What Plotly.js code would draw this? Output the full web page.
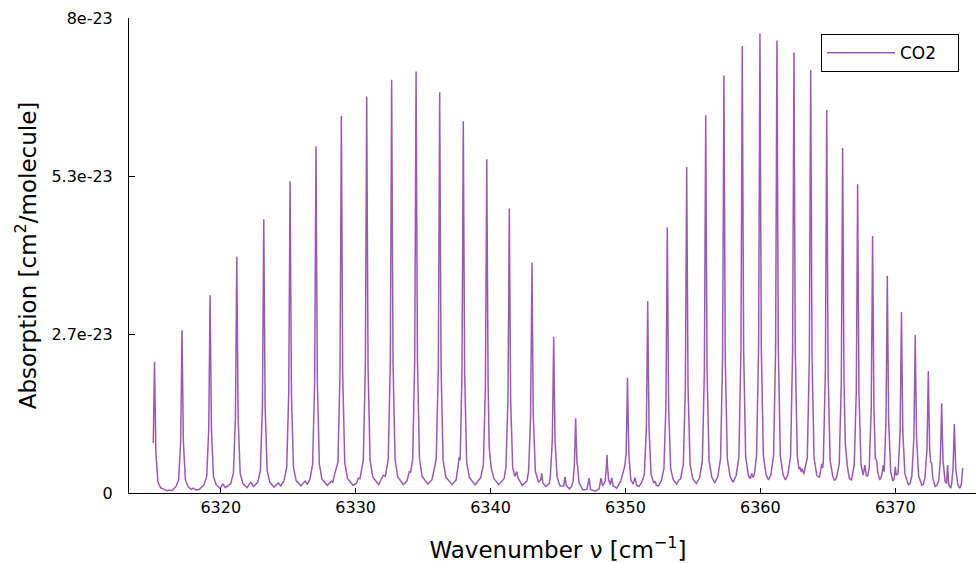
<!DOCTYPE html>
<html>
<head>
<meta charset="utf-8">
<script src="https://cdn.plot.ly/plotly-3.0.1.min.js"></script>
<style>
html,body{margin:0;padding:0;overflow:hidden;background:#fff;}
#chart{width:987px;height:563px;}
</style>
</head>
<body>
<div id="chart"></div>
<script>
// Wavenumber (cm^-1) and absorption cross-section (in units of 1e-23 cm^2/molecule)
const wavenumber = [
6315.00,6315.05,6315.09,6315.13,6315.19,6315.34,6315.54,6315.80,6316.00,6316.20,6316.40,
6316.68,6316.88,6317.03,6317.09,6317.13,6317.17,6317.23,6317.38,6317.58,6317.80,6317.97,6318.15,6318.40,
6318.76,6318.96,6319.11,6319.17,6319.21,6319.25,6319.31,6319.46,6319.66,6319.95,6320.15,6320.35,
6320.74,6320.94,6321.09,6321.15,6321.19,6321.23,6321.29,6321.44,6321.64,6321.95,6322.22,6322.42,
6322.74,6322.94,6323.09,6323.15,6323.19,6323.23,6323.29,6323.44,6323.64,6323.95,6324.27,6324.45,
6324.69,6324.89,6325.04,6325.10,6325.14,6325.18,6325.24,6325.39,6325.59,6325.95,6326.25,6326.42,
6326.61,6326.81,6326.96,6327.02,6327.06,6327.10,6327.16,6327.31,6327.51,6327.90,6328.20,6328.30,6328.47,
6328.69,6328.84,6328.90,6328.94,6328.98,6329.04,6329.19,6329.39,6329.80,6330.05,6330.20,6330.32,
6330.57,6330.72,6330.78,6330.82,6330.86,6330.92,6331.07,6331.27,6331.70,6332.05,6332.20,
6332.42,6332.57,6332.63,6332.67,6332.71,6332.77,6332.92,6333.12,6333.55,6333.80,6333.98,6334.08,
6334.23,6334.38,6334.44,6334.48,6334.52,6334.58,6334.73,6334.93,6335.35,6335.65,6335.88,
6335.98,6336.13,6336.19,6336.23,6336.27,6336.33,6336.48,6336.68,6337.15,6337.45,6337.62,6337.68,6337.75,
6337.88,6337.94,6337.98,6338.02,6338.08,6338.23,6338.43,6338.85,6339.27,
6339.47,6339.62,6339.68,6339.72,6339.76,6339.82,6339.90,6339.97,6340.05,6340.25,6340.60,6341.00,
6341.14,6341.29,6341.35,6341.39,6341.43,6341.49,6341.64,6341.80,6341.94,6342.05,6342.35,6342.70,
6342.82,6342.97,6343.03,6343.07,6343.11,6343.17,6343.32,6343.55,6343.72,6343.79,6343.88,6344.10,6344.35,
6344.43,6344.58,6344.64,6344.68,6344.72,6344.78,6344.93,6345.15,6345.42,6345.52,6345.62,6345.85,6346.00,
6346.12,6346.21,6346.27,6346.31,6346.35,6346.41,6346.45,6346.56,6346.85,6347.15,6347.30,6347.42,6347.75,6348.05,6348.19,6348.30,6348.50,
6348.59,6348.63,6348.67,6348.75,6348.88,6348.98,6349.08,6349.35,6349.65,6349.84,6349.95,
6350.05,6350.11,6350.15,6350.19,6350.25,6350.40,6350.58,6350.71,6350.83,6351.00,6351.20,
6351.40,6351.55,6351.61,6351.65,6351.69,6351.75,6351.90,6352.10,6352.19,6352.30,6352.45,6352.65,
6352.85,6353.00,6353.06,6353.10,6353.14,6353.20,6353.35,6353.55,6353.80,6353.96,6354.09,
6354.29,6354.44,6354.50,6354.54,6354.58,6354.64,6354.79,6354.99,6355.25,6355.50,
6355.70,6355.85,6355.91,6355.95,6355.99,6356.05,6356.20,6356.40,6356.62,6356.85,
6357.05,6357.20,6357.26,6357.30,6357.34,6357.40,6357.55,6357.75,6357.98,6358.21,
6358.41,6358.56,6358.62,6358.66,6358.70,6358.76,6358.91,6359.11,6359.25,6359.36,6359.45,6359.55,
6359.72,6359.87,6359.93,6359.97,6360.01,6360.07,6360.22,6360.42,6360.60,6360.78,
6360.98,6361.13,6361.19,6361.23,6361.27,6361.33,6361.48,6361.68,6361.86,6362.04,
6362.24,6362.39,6362.45,6362.49,6362.53,6362.59,6362.74,6362.86,6362.94,6363.02,6363.10,6363.22,
6363.48,6363.63,6363.69,6363.73,6363.77,6363.83,6363.98,6364.18,6364.38,6364.48,6364.55,6364.62,
6364.67,6364.82,6364.88,6364.92,6364.96,6365.02,6365.17,6365.37,6365.50,6365.65,
6365.85,6366.00,6366.06,6366.10,6366.14,6366.20,6366.30,6366.38,6366.45,6366.60,6366.76,
6366.96,6367.11,6367.17,6367.21,6367.25,6367.31,6367.46,6367.62,6367.75,6367.85,6367.95,
6368.07,6368.22,6368.28,6368.32,6368.36,6368.42,6368.52,6368.62,6368.70,6368.85,6369.00,6369.11,6369.18,
6369.31,6369.37,6369.41,6369.45,6369.51,6369.66,6369.82,6369.93,6370.00,6370.07,
6370.21,6370.36,6370.42,6370.46,6370.50,6370.56,6370.71,6370.97,6371.10,
6371.23,6371.38,6371.44,6371.48,6371.52,6371.58,6371.73,6371.97,6372.08,
6372.20,6372.35,6372.41,6372.45,6372.49,6372.55,6372.62,6372.70,6372.78,6372.95,6373.08,
6373.22,6373.34,6373.40,6373.44,6373.48,6373.54,6373.69,6373.80,6373.88,6373.96,6374.10,
6374.18,6374.28,6374.34,6374.38,6374.42,6374.48,6374.63,6374.78,6374.90,6375.00
];
const absorption_1e23 = [
0.84,1.60,2.21,1.60,0.70,0.19,0.09,0.06,0.04,0.05,0.04,
0.11,0.22,0.87,1.97,2.74,1.97,0.87,0.22,0.11,0.06,0.08,0.05,0.06,
0.14,0.28,1.07,2.40,3.33,2.40,1.07,0.28,0.14,0.08,0.15,0.09,
0.16,0.33,1.27,2.87,3.98,2.87,1.27,0.33,0.16,0.09,0.18,0.11,
0.18,0.38,1.47,3.32,4.61,3.32,1.47,0.38,0.18,0.10,0.17,0.12,
0.21,0.43,1.68,3.78,5.25,3.78,1.68,0.43,0.21,0.12,0.20,0.15,
0.23,0.48,1.86,4.20,5.84,4.20,1.86,0.48,0.23,0.13,0.20,0.18,0.34,
0.52,2.03,4.57,6.35,4.57,2.03,0.52,0.25,0.13,0.16,0.25,0.24,
0.55,2.13,4.81,6.68,4.81,2.13,0.55,0.27,0.14,0.30,0.28,
0.57,2.22,5.01,6.96,5.01,2.22,0.57,0.27,0.14,0.20,0.36,0.35,
0.58,2.26,5.11,7.10,5.11,2.26,0.58,0.28,0.15,0.22,0.46,
0.60,2.15,4.86,6.75,4.86,2.15,0.56,0.27,0.14,0.22,0.50,0.61,0.55,
2.00,4.51,6.26,4.51,2.00,0.52,0.26,0.14,0.26,
0.48,1.82,4.05,5.62,4.05,1.82,0.78,0.60,0.42,0.24,0.14,0.24,
0.43,1.57,3.45,4.79,3.45,1.57,0.43,0.28,0.36,0.25,0.13,0.20,
0.37,1.29,2.79,3.88,2.79,1.29,0.37,0.18,0.22,0.33,0.17,0.11,0.16,
0.27,0.90,1.89,2.63,1.89,0.90,0.27,0.12,0.12,0.27,0.12,0.07,0.11,
0.20,0.45,0.91,1.26,0.91,0.50,0.46,0.17,0.05,0.06,0.25,0.06,0.03,0.07,0.25,0.12,0.20,
0.46,0.64,0.46,0.22,0.14,0.26,0.12,0.08,0.20,0.36,0.45,
0.66,1.40,1.94,1.40,0.66,0.22,0.15,0.26,0.13,0.11,0.18,
0.31,1.08,2.33,3.23,2.33,1.08,0.31,0.17,0.20,0.13,0.12,0.20,
0.41,1.47,3.22,4.47,3.22,1.47,0.41,0.22,0.15,0.22,0.24,
0.48,1.78,3.95,5.49,3.95,1.78,0.48,0.24,0.16,0.26,
0.54,2.05,4.58,6.36,4.58,2.05,0.54,0.27,0.17,0.28,
0.58,2.25,5.06,7.03,5.06,2.25,0.58,0.28,0.18,0.30,
0.61,2.40,5.42,7.53,5.42,2.40,0.61,0.30,0.24,0.33,0.26,0.31,
0.63,2.46,5.57,7.74,5.57,2.46,0.63,0.31,0.22,0.31,
0.63,2.43,5.49,7.62,5.49,2.43,0.63,0.31,0.22,0.31,
0.62,2.37,5.34,7.42,5.34,2.37,0.62,0.40,0.44,0.36,0.41,0.32,
0.59,2.28,5.13,7.12,5.13,2.28,0.59,0.30,0.26,0.40,0.49,0.42,
0.55,2.08,4.64,6.45,4.64,2.08,0.55,0.28,0.21,0.26,
0.50,1.88,4.18,5.81,4.18,1.88,0.82,0.62,0.45,0.24,0.22,
0.48,1.70,3.74,5.20,3.74,1.70,0.48,0.30,0.47,0.30,0.28,
0.42,1.43,3.12,4.33,3.12,1.43,0.58,0.55,0.35,0.22,0.30,0.47,0.36,
1.22,2.64,3.66,2.64,1.22,0.36,0.20,0.25,0.44,0.30,
0.33,1.05,2.20,3.05,2.20,1.05,0.33,0.14,0.16,
0.29,0.93,1.92,2.66,1.92,0.93,0.29,0.13,0.15,
0.25,0.74,1.48,2.05,1.48,0.74,0.52,0.50,0.25,0.11,0.13,
0.20,0.55,1.09,1.51,1.09,0.55,0.20,0.16,0.47,0.15,0.08,
0.15,0.42,0.84,1.16,0.84,0.42,0.15,0.08,0.15,0.42
];
const seriesName = 'CO2';
const yTickValues = [0, 2.6667e-23, 5.3333e-23, 8e-23];
const yTickLabels = ['0', '2.7e-23', '5.3e-23', '8e-23'];
const xTickValues = [6320, 6330, 6340, 6350, 6360, 6370];

const absorption = absorption_1e23.map(v => v * 1e-23);

const font = 'DejaVu Sans, Liberation Sans, sans-serif';
const trace = {
  x: wavenumber, y: absorption, type: 'scatter', mode: 'lines',
  name: seriesName + '\u00a0\u00a0\u00a0',
  line: {color: '#9b59b6', width: 1.5, simplify: false}
};
const layout = {
  width: 987, height: 563,
  margin: {l: 129, r: 0, t: 18, b: 70, pad: 0},
  paper_bgcolor: '#ffffff', plot_bgcolor: '#ffffff',
  showlegend: true,
  legend: {x: 0.8065, y: 0.966, xanchor: 'left', yanchor: 'top', bgcolor: '#ffffff',
           bordercolor: '#000000', borderwidth: 1, font: {family: font, size: 17, color: '#000'},
           itemwidth: 68},
  xaxis: {
    range: [6313.2, 6376.8], tickvals: xTickValues, ticks: 'inside', ticklen: 5, tickwidth: 1,
    tickcolor: '#000', showline: true, linecolor: '#000', linewidth: 1, showgrid: false, zeroline: false,
    tickfont: {family: font, size: 16, color: '#000'}, automargin: false,
    title: {text: 'Wavenumber ν [cm<sup>−1</sup>]', font: {family: font, size: 23, color: '#000'}, standoff: 28}
  },
  yaxis: {
    range: [0, 8e-23], tickvals: yTickValues, ticktext: yTickLabels, ticks: 'inside', ticklen: 6, tickwidth: 1,
    tickcolor: '#000', showline: true, linecolor: '#000', linewidth: 1, showgrid: false, zeroline: false,
    tickfont: {family: font, size: 16, color: '#000'}, automargin: false, ticklabelstandoff: 12,
    title: {text: 'Absorption [cm<sup>2</sup>/molecule]', font: {family: font, size: 23, color: '#000'}, standoff: 8}
  }
};
Plotly.newPlot('chart', [trace], layout, {displayModeBar: false, staticPlot: true});
</script>
</body>
</html>
